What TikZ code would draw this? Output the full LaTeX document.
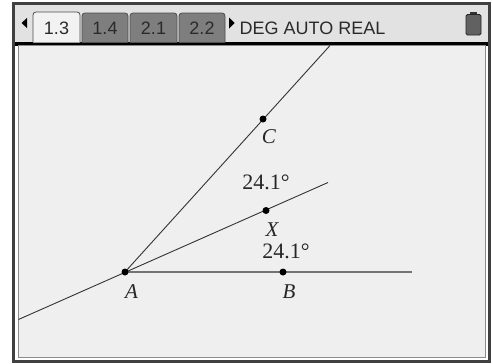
\documentclass[tikz,border=0pt]{standalone}
\usepackage{fontspec}
\setmainfont{Liberation Serif}
\newfontfamily\uifont{Liberation Sans}
\definecolor{areabg}{HTML}{EFEFEF}
\definecolor{barbg}{HTML}{E2E2E2}
\definecolor{tabdark}{HTML}{7E7E7E}
\definecolor{tablight}{HTML}{F2F2F2}
\definecolor{uitext}{HTML}{2A2A2A}
\begin{document}
\begin{tikzpicture}[x=1pt,y=-1pt,
  pt/.style={circle,fill=black,inner sep=0pt,minimum size=7pt},
  lbl/.style={font=\fontsize{21}{21}\selectfont\itshape,inner sep=0pt,text=black!85},
  meas/.style={font=\fontsize{22}{22}\selectfont,inner sep=0pt,text=black!85},
  thinline/.style={draw=black!80,line width=0.9pt},
  rayline/.style={draw=black!55,line width=1.6pt},
  tabbox/.style={draw=black!70,line width=0.8pt,rounded corners=3pt},
  tabtxt/.style={font=\uifont\fontsize{18}{18}\selectfont,text=uitext,inner sep=0pt},
  arrowtri/.style={fill=black}]
\useasboundingbox (0,0) rectangle (493,364);
\fill[white] (0,0) rectangle (493,364);
% frame
\fill[black!75] (12,2) rectangle (491,363);
\fill[white] (15,5) rectangle (488,360);
\fill[barbg] (15,5) rectangle (488,42);
\fill[black] (15,42) rectangle (488,45.5);
\draw[fill=areabg,draw=black!45,line width=1pt] (18,45.5) rectangle (485,357);
% tabs
\draw[tabbox,fill=tablight] (33,42.5) -- (33,12) -- (80,12) -- (80,42.5);
\draw[tabbox,fill=tabdark] (82,42.5) -- (82,13) -- (128,13) -- (128,42.5);
\draw[tabbox,fill=tabdark] (130,42.5) -- (130,13) -- (177,13) -- (177,42.5);
\draw[tabbox,fill=tabdark] (179,42.5) -- (179,13) -- (225,13) -- (225,42.5);
\node[tabtxt] (t13) at (56.5,28.5) {1.3};
\node[tabtxt] (t14) at (105,28.5) {1.4};
\node[tabtxt] (t21) at (153.5,28.5) {2.1};
\node[tabtxt] (t22) at (202,28.5) {2.2};
\fill[arrowtri] (21.5,23) -- (27,18) -- (27,28) -- cycle;
\fill[arrowtri] (229,17.5) -- (234.5,23) -- (229,28.5) -- cycle;
\node[tabtxt,anchor=west,font=\uifont\fontsize{18}{18}\selectfont] (mode) at (239.5,28.5) {DEG AUTO REAL};
% battery
\fill[black!80] (470,11.5) rectangle (477,15);
\draw[fill=black!62,draw=black!85,line width=0.8pt,rounded corners=1.5pt] (466,14.5) rectangle (481,35);
% geometry
\coordinate (A) at (125,272);
\coordinate (B) at (283,272);
\coordinate (X) at (266,210.5);
\coordinate (C) at (263,119);
\coordinate (Bend) at (412,272);
\coordinate (Lstart) at (18.5,319.5);
\coordinate (Xend) at (328,182.5);
\coordinate (Ctop) at (330,45.5);
\draw[rayline] (A) -- (Bend);
\draw[thinline] (Lstart) -- (Xend);
\draw[thinline] (A) -- (Ctop);
\node[pt] (nA) at (A) {};
\node[pt] (nB) at (B) {};
\node[pt] (nX) at (X) {};
\node[pt] (nC) at (C) {};
\node[lbl] (lA) at (131.5,291.5) {A};
\node[lbl] (lB) at (289,291.5) {B};
\node[lbl] (lX) at (272,229.5) {X};
\node[lbl] (lC) at (269,137) {C};
\node[meas] (m1) at (266,182) {24.1°};
\node[meas] (m2) at (286,251) {24.1°};
\end{tikzpicture}
\end{document}
